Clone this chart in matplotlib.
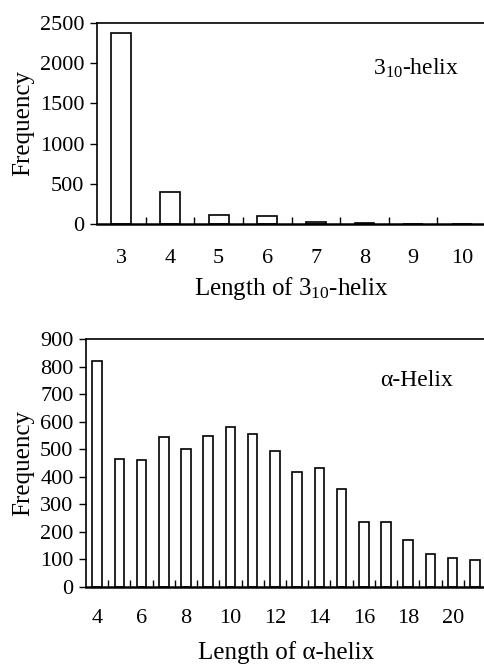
import matplotlib
matplotlib.use("Agg")
import matplotlib.pyplot as plt
from matplotlib.ticker import FixedLocator, NullFormatter

plt.rcParams['font.family'] = ['Liberation Serif', 'DejaVu Serif']
plt.rcParams['mathtext.fontset'] = 'custom'
plt.rcParams['mathtext.rm'] = 'Liberation Serif'
plt.rcParams['mathtext.it'] = 'Liberation Serif:italic'

# 3-10 helix length distribution
len_310 = [3, 4, 5, 6, 7, 8, 9, 10]
freq_310 = [2372, 398, 108, 96, 20, 10, 4, 3]

# alpha helix length distribution
len_alpha = [4, 5, 6, 7, 8, 9, 10, 11, 12, 13, 14, 15, 16, 17, 18, 19, 20, 21]
freq_alpha = [821, 464, 462, 544, 502, 548, 581, 556, 492, 417, 432, 354,
              236, 237, 170, 121, 104, 99]
alpha_labels = [4, 6, 8, 10, 12, 14, 16, 18, 20]


def style_axes(ax, n, xpad):
    ax.set_xlim(-0.5, n - 0.5)
    for s in ax.spines.values():
        s.set_linewidth(1.2)
    ax.spines['bottom'].set_linewidth(1.8)
    ax.xaxis.set_minor_locator(FixedLocator([i + 0.5 for i in range(n - 1)]))
    ax.xaxis.set_minor_formatter(NullFormatter())
    ax.tick_params(axis='x', which='major', length=0, pad=xpad, labelsize=16)
    ax.tick_params(axis='x', which='minor', direction='in', length=5, width=1)
    ax.tick_params(axis='y', direction='out', length=5, width=1, labelsize=16, pad=4)


fig = plt.figure(figsize=(4.84, 6.66), dpi=100)

# top panel
ax1 = fig.add_axes([0.2004, 0.6637, 0.804, 0.3018])
x1 = range(len(len_310))
ax1.bar(x1, freq_310, width=0.41, color='white', edgecolor='black', linewidth=1.2)
style_axes(ax1, len(len_310), 18)
ax1.set_ylim(0, 2500)
ax1.set_yticks([0, 500, 1000, 1500, 2000, 2500])
ax1.set_xticks(list(x1))
ax1.set_xticklabels([str(v) for v in len_310])
ax1.set_ylabel('Frequency', fontsize=18, labelpad=4)
ax1.set_xlabel('Length of 3$_{10}$-helix', fontsize=18, labelpad=5)
ax1.text(0.71, 0.745, '3$_{10}$-helix', transform=ax1.transAxes, fontsize=17)

# bottom panel
ax2 = fig.add_axes([0.1777, 0.1186, 0.8264, 0.3724])
x2 = range(len(len_alpha))
ax2.bar(x2, freq_alpha, width=0.43, color='white', edgecolor='black', linewidth=1.2)
style_axes(ax2, len(len_alpha), 16)
ax2.set_ylim(0, 900)
ax2.set_yticks(range(0, 901, 100))
ax2.set_xticks([len_alpha.index(v) for v in alpha_labels])
ax2.set_xticklabels([str(v) for v in alpha_labels])
ax2.set_ylabel('Frequency', fontsize=18, labelpad=4)
ax2.set_xlabel('Length of α-helix', fontsize=18, labelpad=9)
ax2.text(0.735, 0.812, 'α-Helix', transform=ax2.transAxes, fontsize=17)

fig.savefig('out.png', dpi=100)
